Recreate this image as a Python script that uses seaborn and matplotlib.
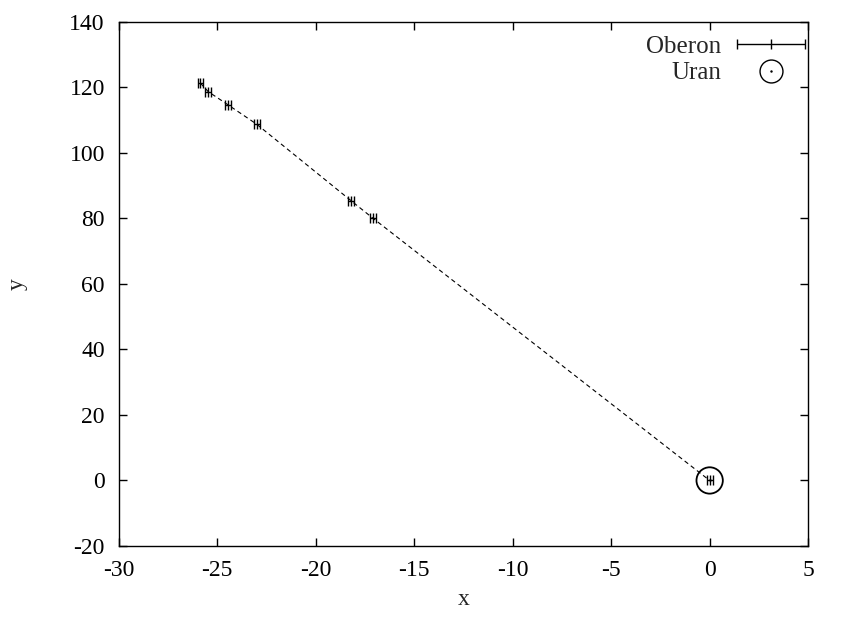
import matplotlib
matplotlib.use("Agg")
import matplotlib.pyplot as plt
import seaborn as sns
import pandas as pd
from matplotlib.lines import Line2D
from matplotlib.legend_handler import HandlerErrorbar

# positions of Oberon relative to Uranus
oberon_x = [-25.85, -25.45, -24.45, -23.0, -18.2, -17.1, 0.0]
oberon_y = [121.3, 118.7, 114.7, 108.8, 85.4, 80.1, 0.0]
oberon_xerr = [0.15, 0.15, 0.15, 0.15, 0.15, 0.15, 0.15]
uran_x = [0.0]
uran_y = [0.0]

sns.set_theme(style="ticks")
plt.rcParams["font.family"] = ["Liberation Serif", "DejaVu Serif"]
plt.rcParams["axes.unicode_minus"] = False
fs = 17

df = pd.DataFrame({"x": oberon_x, "y": oberon_y})

fig = plt.figure(figsize=(8.48, 6.19), dpi=100)
ax = fig.add_axes([0.140, 0.118, 0.813, 0.8465])

# dashed connecting line
sns.lineplot(data=df, x="x", y="y", sort=False, ax=ax, color="black",
             linestyle=(0, (4, 3)), linewidth=0.8, legend=False)

# points with x error bars
err = ax.errorbar(oberon_x, oberon_y, xerr=oberon_xerr, fmt="|", color="black",
                  markersize=7, elinewidth=1.0, capsize=3.5, capthick=1.0,
                  markeredgewidth=1.0, zorder=3)

# Uranus
sns.scatterplot(x=uran_x, y=uran_y, ax=ax, s=360, facecolor="none",
                edgecolor="black", linewidth=1.3, zorder=4, legend=False)
ax.plot(uran_x, uran_y, marker=".", markersize=1.5, color="black", linestyle="none")

ax.set_xlim(-30, 5)
ax.set_ylim(-20, 140)
ax.set_xticks(range(-30, 6, 5))
ax.set_yticks(range(-20, 141, 20))
ax.set_xlabel("x", fontsize=fs, labelpad=6)
ax.set_ylabel("y", fontsize=fs, labelpad=30)
ax.tick_params(direction="in", top=True, right=True, length=6, width=1,
               labelsize=fs, colors="black", pad=10)
for s in ax.spines.values():
    s.set_linewidth(1.0)
    s.set_color("black")

# legend, gnuplot style: labels on the left of the samples
circ = Line2D([], [], marker="o", markersize=16.5, markerfacecolor="none",
              markeredgecolor="black", linestyle="none", markeredgewidth=1.0)
dot = Line2D([], [], marker=".", markersize=1.5, color="black", linestyle="none")
ax.legend([err, (circ, dot)], ["Oberon", "Uran"], loc="upper right",
          bbox_to_anchor=(0.997, 0.975), frameon=False, markerfirst=False,
          fontsize=18, handlelength=2.8, labelspacing=0.17, borderaxespad=0,
          borderpad=0, handletextpad=0.6,
          handler_map={type(err): HandlerErrorbar(xerr_size=1.35)})

fig.savefig("out.png", dpi=100)
